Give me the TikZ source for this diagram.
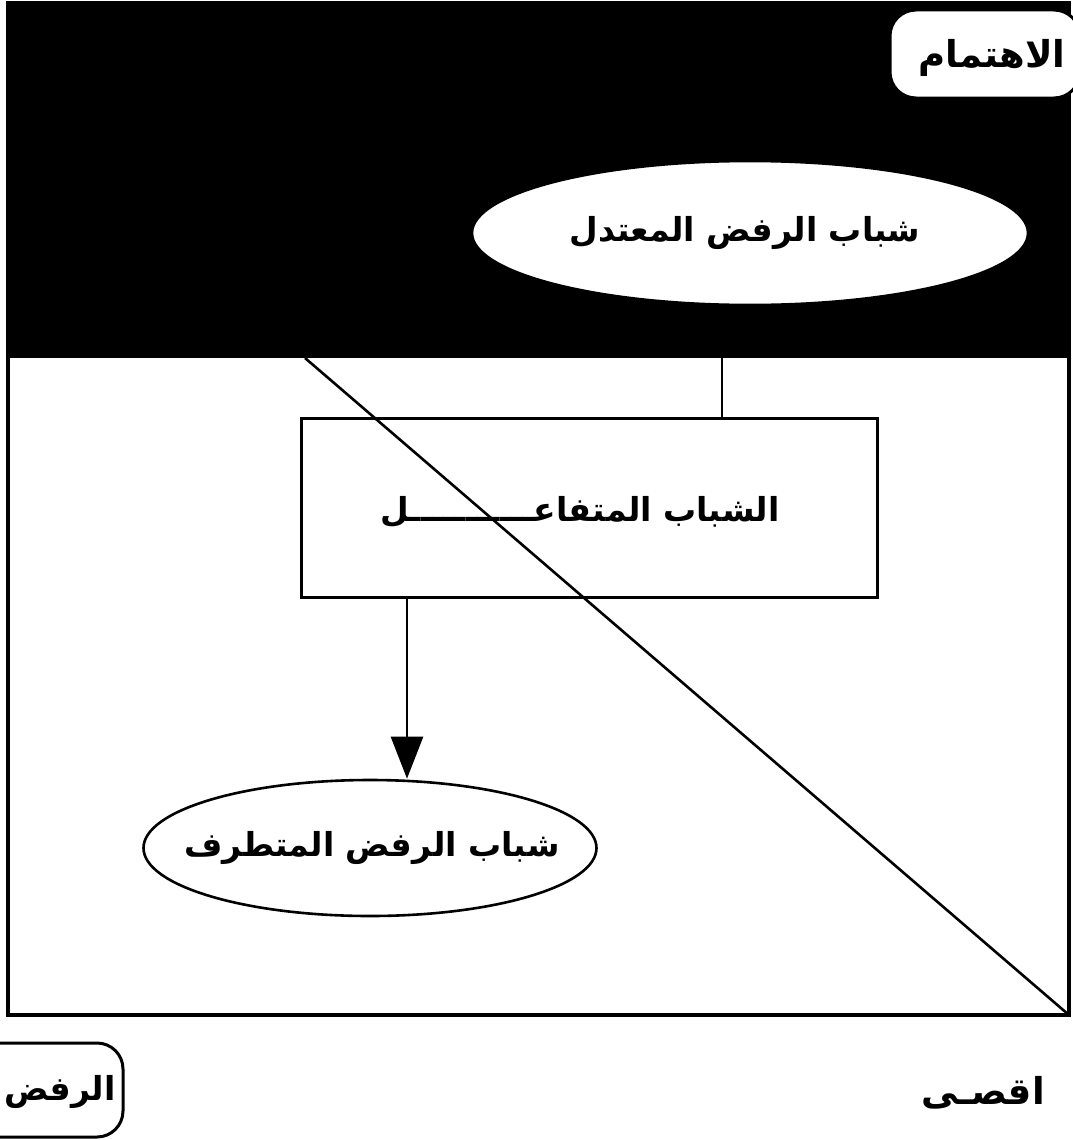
\documentclass[tikz,border=0pt]{standalone}
\usepackage{fontspec}
\newfontfamily\arabicfont[Script=Arabic]{DejaVu Sans}
\TeXXeTstate=1
\usetikzlibrary{shapes.geometric,arrows.meta}
\newcommand{\ar}[1]{\arabicfont\bfseries\beginR #1\endR}
\begin{document}
\begin{tikzpicture}[x=1pt,y=-1pt,
  frameline/.style={line width=3.5pt},
  thin line/.style={line width=2.6pt},
  ovalbox/.style={ellipse, draw, line width=2.6pt, inner sep=0pt},
  tagbox/.style={draw, line width=3pt, fill=white, rounded corners=26pt, inner sep=0pt},
  lbl/.style={font=\fontsize{33}{40}\selectfont},
  biglbl/.style={font=\fontsize{37}{44}\selectfont}
]
\useasboundingbox (0,0) rectangle (1073,1140);
\clip (0,0) rectangle (1073,1140);
\fill[white] (0,0) rectangle (1073,1140);
% dark band
\fill[black] (8,3) rectangle (1069,358);
% frame
\draw[frameline] (8,3) rectangle (1069,1015);
% diagonal
\coordinate (dstart) at (305,358);
\coordinate (dend) at (1069,1015);
\draw[thin line] (dstart) -- (dend);
% nodes
\node[ovalbox, fill=white, minimum width=556pt, minimum height=144pt] (mod) at (750,233) {};
\node[lbl] (modtxt) at (745,233) {\ar{شباب الرفض المعتدل}};
\node[draw, line width=3pt, fill=none, minimum width=576pt, minimum height=179pt, inner sep=0pt] (act) at (589,507.5) {};
\node[lbl] (acttxt) at (580,512) {\ar{الشباب المتفاعـــــــــــل}};
\node[ovalbox, minimum width=453pt, minimum height=136pt] (ext) at (370,848) {};
\node[lbl] (exttxt) at (372,848) {\ar{شباب الرفض المتطرف}};
\node[tagbox, minimum width=190pt, minimum height=88pt] (att) at (985,54) {};
\node[biglbl] (atttxt) at (992,58) {\ar{الاهتمام}};
\node[tagbox, minimum width=150pt, minimum height=94pt] (rej) at (48,1090) {};
\node[lbl] (rejtxt) at (60,1092) {\ar{الرفض}};
\node[biglbl] (far) at (983,1093) {\ar{اقصـى}};
% connectors
\draw[thin line] ([xshift=-28pt]mod.south) -- ([xshift=-28pt]mod.south |- act.north);
\draw[thin line, -{Triangle[length=42pt,width=32pt]}] ([xshift=-182pt]act.south) -- ([xshift=-182pt]act.south |- ext.north);
\end{tikzpicture}
\end{document}
